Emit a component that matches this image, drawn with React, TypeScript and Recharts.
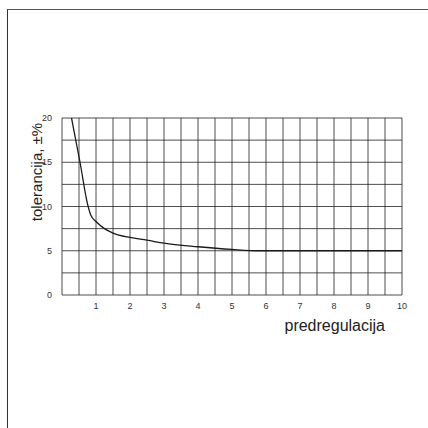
import React from "react";
import { LineChart, Line, XAxis, YAxis, CartesianGrid, Label } from "recharts";

const xTicks = [0, 0.5, 1, 1.5, 2, 2.5, 3, 3.5, 4, 4.5, 5, 5.5, 6, 6.5, 7, 7.5, 8, 8.5, 9, 9.5, 10];
const yTicks = [0, 2.5, 5, 7.5, 10, 12.5, 15, 17.5, 20];

const predregulacija = [0.28, 0.53, 0.75, 0.85, 1, 1.25, 1.5, 2, 2.5, 3, 4, 5, 5.8, 10];
const tolerancija = [20, 15, 10.3, 9, 8.3, 7.5, 7, 6.5, 6.2, 5.85, 5.45, 5.15, 5, 5];

const data = predregulacija.map((x, i) => ({ x, y: tolerancija[i] }));

const FONT = "'Liberation Sans', Arial, sans-serif";

export default function App() {
  return (
    <div style={{ position: "fixed", left: 0, top: 0, width: 428, height: 428, background: "#fff" }}>
      <div style={{ position: "absolute", left: 7, top: 9, width: 421, height: 419, borderTop: "1.5px solid #555", borderLeft: "1.5px solid #333", boxSizing: "border-box" }} />
      <div style={{ position: "absolute", left: 0, top: 0 }}>
        <LineChart width={428} height={428} data={data} margin={{ top: 118, right: 26, bottom: 103, left: 22 }}>
          <CartesianGrid stroke="#222" strokeWidth={0.8} />
          <XAxis
            dataKey="x"
            type="number"
            domain={[0, 10]}
            ticks={xTicks}
            interval={0}
            height={30}
            axisLine={false}
            tickLine={false}
            tickFormatter={(v: number) => (Number.isInteger(v) && v > 0 ? String(v) : "")}
            tick={{ fontSize: 9, fill: "#333", fontFamily: FONT }}
            tickMargin={2}
          >
            <Label
              content={(props: any) => {
                const vb = props.viewBox || {};
                return (
                  <text x={vb.x + vb.width - 17} y={vb.y + 36} textAnchor="end" fontSize={16} fontFamily={FONT} fill="#222">
                    predregulacija
                  </text>
                );
              }}
            />
          </XAxis>
          <YAxis
            type="number"
            domain={[0, 20]}
            ticks={yTicks}
            interval={0}
            width={40}
            axisLine={false}
            tickLine={false}
            tickFormatter={(v: number) => (v % 5 === 0 ? String(v) : "")}
            tick={{ fontSize: 9, fill: "#333", fontFamily: FONT }}
            tickMargin={4}
          >
            <Label
              content={(props: any) => {
                const vb = props.viewBox || {};
                const cx = vb.x + 20;
                const cy = vb.y + 54;
                return (
                  <text x={cx} y={cy} transform={`rotate(-90, ${cx}, ${cy})`} textAnchor="middle" fontSize={15} fontFamily={FONT} fill="#222">
                    tolerancija, ±%
                  </text>
                );
              }}
            />
          </YAxis>
          <Line type="monotone" dataKey="y" stroke="#1a1a1a" strokeWidth={1.3} dot={false} isAnimationActive={false} />
        </LineChart>
      </div>
    </div>
  );
}
